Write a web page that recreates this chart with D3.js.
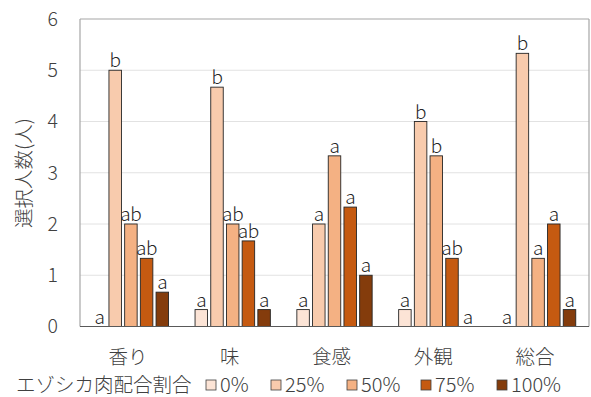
<!DOCTYPE html>
<html>
<head>
<meta charset="utf-8">
<script src="https://cdn.jsdelivr.net/npm/d3@7"></script>
<style>
  html, body { margin: 0; padding: 0; background: #fff; }
  svg { display: block; font-family: "Noto Sans CJK JP", "Noto Sans", sans-serif; font-weight: 300; }
</style>
</head>
<body>
<svg id="chart" width="591" height="397"></svg>
<script>
const categories = ["香り", "味", "食感", "外観", "総合"];
const seriesNames = ["0%", "25%", "50%", "75%", "100%"];
const seriesColors = ["#FCE4D6", "#F8CBAD", "#F4B183", "#C55A11", "#843C0C"];
// values[series][category]
const values = [
  [0, 0.33, 0.33, 0.33, 0],
  [5, 4.67, 2, 4, 5.33],
  [2, 2, 3.33, 3.33, 1.33],
  [1.33, 1.67, 2.33, 1.33, 2],
  [0.67, 0.33, 1, 0, 0.33]
];
const letters = [
  ["a", "a", "a", "a", "a"],
  ["b", "b", "a", "b", "b"],
  ["ab", "ab", "a", "b", "a"],
  ["ab", "ab", "a", "ab", "a"],
  ["a", "a", "a", "a", "a"]
];
const yTicks = [0, 1, 2, 3, 4, 5, 6];
const yTitle = "選択人数(人)";
const legendTitle = "エゾシカ肉配合割合";

const svg = d3.select("#chart");
const mLeft = 80, mRight = 589, mTop = 19, mBottom = 326.5;
const textColor = "#404040";

const x0 = d3.scaleBand().domain(categories).range([mLeft, mRight]).padding(0);
const groupW = 75.3;
const x1 = d3.scaleBand().domain(seriesNames).range([0, groupW]).paddingInner(0.204).paddingOuter(0);
const groupOff = (x0.bandwidth() - groupW) / 2;
const y = d3.scaleLinear().domain([0, 6]).range([mBottom, mTop]);

// gridlines
svg.append("g").selectAll("line").data(yTicks.filter(d => d > 0 && d < 6)).join("line")
  .attr("x1", mLeft).attr("x2", mRight)
  .attr("y1", d => y(d)).attr("y2", d => y(d))
  .attr("stroke", "#e2e2e2").attr("stroke-width", 1);

// frame
svg.append("line").attr("x1", mLeft).attr("x2", mRight).attr("y1", y(6)).attr("y2", y(6)).attr("stroke", "#a6a6a6").attr("stroke-width", 1.2);
svg.append("line").attr("x1", mRight).attr("x2", mRight).attr("y1", y(6)).attr("y2", mBottom).attr("stroke", "#a6a6a6").attr("stroke-width", 1.2);
svg.append("line").attr("x1", mLeft).attr("x2", mLeft).attr("y1", y(6)).attr("y2", mBottom).attr("stroke", "#a6a6a6").attr("stroke-width", 1.2);

// y axis labels
const yAxis = d3.axisLeft(y).tickValues(yTicks).tickFormat(d3.format("d")).tickSize(0).tickPadding(22);
const ya = svg.append("g").attr("transform", `translate(${mLeft},0)`).call(yAxis);
ya.select(".domain").remove();
ya.selectAll("text").attr("font-size", 19.5).attr("fill", textColor)
  .attr("font-family", "'Noto Sans CJK JP', sans-serif").attr("font-weight", 300);

// bars
const data = [];
seriesNames.forEach((s, si) => categories.forEach((c, ci) => {
  data.push({ s, si, c, v: values[si][ci], l: letters[si][ci] });
}));

const bars = svg.append("g");
bars.selectAll("rect").data(data.filter(d => d.v > 0)).join("rect")
  .attr("x", d => x0(d.c) + groupOff + x1(d.s))
  .attr("y", d => y(d.v))
  .attr("width", x1.bandwidth())
  .attr("height", d => y(0) - y(d.v))
  .attr("fill", d => seriesColors[d.si])
  .attr("stroke", "#262626").attr("stroke-width", 0.9);

// letter labels
svg.append("g").selectAll("text").data(data).join("text")
  .attr("x", d => x0(d.c) + groupOff + x1(d.s) + x1.bandwidth() / 2)
  .attr("y", d => y(d.v) - 3)
  .attr("text-anchor", "middle")
  .attr("font-size", 19)
  .attr("letter-spacing", -0.3)
  .attr("fill", "#262626")
  .attr("font-weight", 300)
  .text(d => d.l);

// x axis line
svg.append("line").attr("x1", mLeft).attr("x2", mRight).attr("y1", mBottom).attr("y2", mBottom)
  .attr("stroke", "#595959").attr("stroke-width", 1.2);

// x axis labels
const xAxis = d3.axisBottom(x0).tickSize(0).tickPadding(24);
const xa = svg.append("g").attr("transform", `translate(0,${mBottom})`).call(xAxis);
xa.select(".domain").remove();
xa.selectAll("text").attr("font-size", 19.5).attr("fill", textColor)
  .attr("font-family", "'Noto Sans CJK JP', sans-serif").attr("font-weight", 300)
  .attr("dx", -3);

// y title
svg.append("text")
  .attr("transform", `translate(31,173) rotate(-90)`)
  .attr("text-anchor", "middle")
  .attr("font-size", 19.5)
  .attr("fill", textColor)
  .text(yTitle);

// legend
const legBase = 392;
svg.append("text").attr("x", 16).attr("y", legBase)
  .attr("font-size", 19.5).attr("fill", textColor).text(legendTitle);
const legX = [206, 271, 347, 421, 497];
const lg = svg.append("g").selectAll("g").data(seriesNames).join("g")
  .attr("transform", (d, i) => `translate(${legX[i]},${legBase})`);
lg.append("rect").attr("x", 0).attr("y", -12).attr("width", 10).attr("height", 10)
  .attr("fill", (d, i) => seriesColors[i]).attr("stroke", textColor).attr("stroke-width", 0.8);
lg.append("text").attr("x", 14).attr("y", 0)
  .attr("font-size", 20).attr("fill", textColor).text(d => d);
</script>
</body>
</html>
